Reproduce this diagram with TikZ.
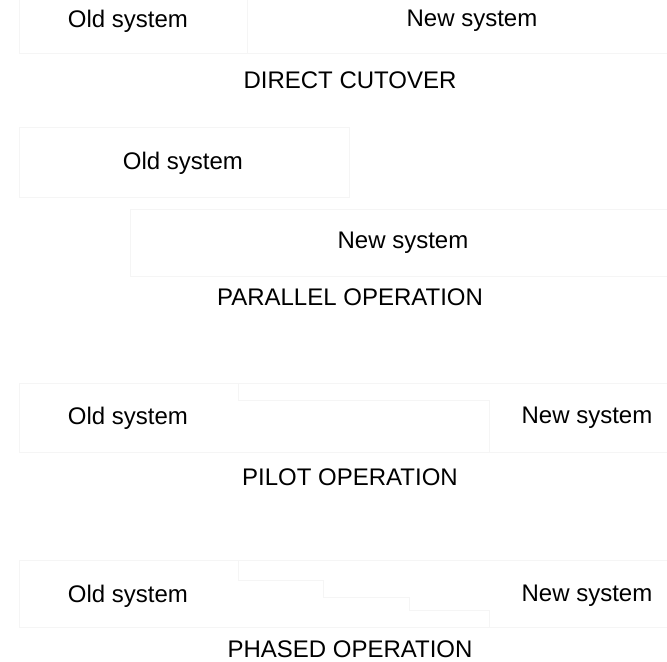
\documentclass[tikz,border=0pt]{standalone}
\usepackage{fontspec}
\setmainfont{Liberation Sans}
\usepackage{xcolor}
\usepackage{tikz}

\begin{document}
\begin{tikzpicture}
  [x=1bp,y=-1bp,every node/.style={inner sep=0pt,font=\fontsize{24bp}{28bp}\selectfont},
   faint/.style={draw=black!4,line width=.8bp}]
  \useasboundingbox (0,0) rectangle (667,662);
  % faint boxes behind the labels
  \draw[faint] (19,0) -- (19,53) -- (247,53) -- (247,0);
  \draw[faint] (247,53) -- (667,53);
  \draw[faint] (19,127) rectangle (349,197);
  \draw[faint] (130,209) rectangle (667,276);
  \draw[faint] (19,383) -- (238,383) -- (238,400) -- (489,400) -- (489,452) -- (19,452) -- cycle;
  \draw[faint] (238,383) -- (667,383) -- (667,452) -- (489,452);
  \draw[faint] (19,560) -- (238,560) -- (238,580) -- (323,580) -- (323,597) -- (409,597)
    -- (409,610) -- (489,610) -- (489,627) -- (19,627) -- cycle;
  \draw[faint] (238,560) -- (667,560) -- (667,627) -- (489,627);
  % labels
  \node (old1) at (128,21)  {Old system};
  \node (new1) at (472,21)  {New system};
  \node (t1)   at (350,80)  {DIRECT CUTOVER};
  \node (old2) at (183,163) {Old system};
  \node (new2) at (403,243) {New system};
  \node (t2)   at (350,297) {PARALLEL OPERATION};
  \node (old3) at (128,418) {Old system};
  \node (new3) at (587,418) {New system};
  \node (t3)   at (350,477) {PILOT OPERATION};
  \node (old4) at (128,596) {Old system};
  \node (new4) at (587,596) {New system};
  \node (t4)   at (350,649) {PHASED OPERATION};
\end{tikzpicture}
\end{document}
